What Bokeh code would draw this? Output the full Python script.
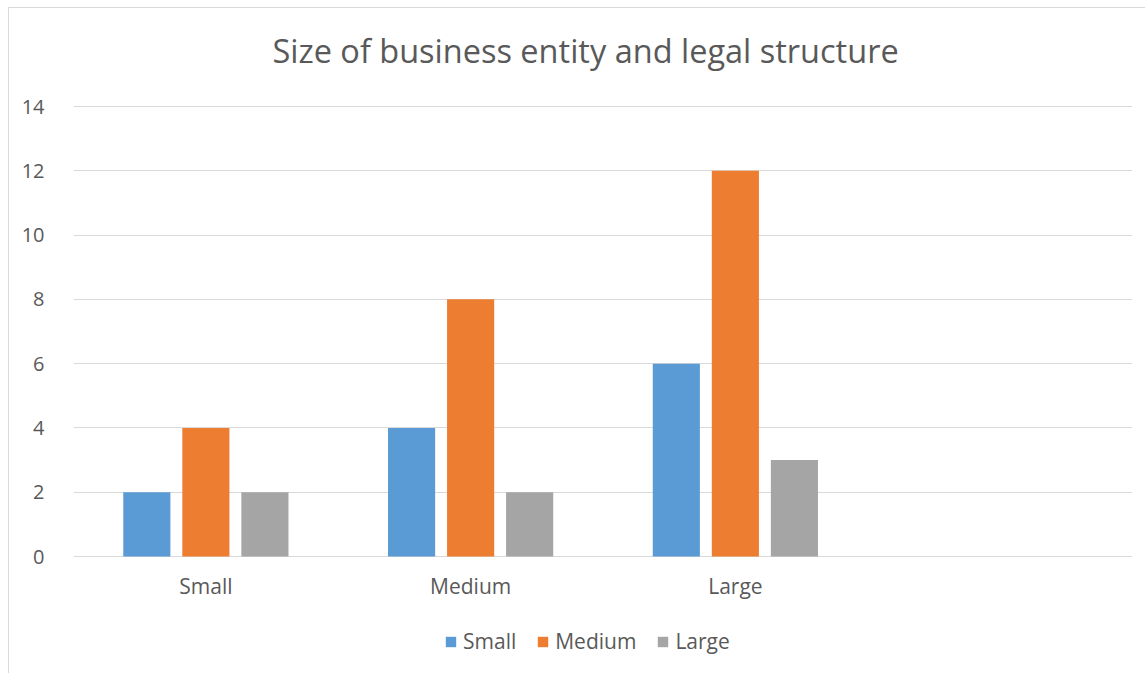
from bokeh.plotting import figure
from bokeh.models import FixedTicker, Legend, LegendItem, Range1d, ColumnDataSource, Label
from bokeh.core.properties import value
from bokeh.embed import file_html
from bokeh.resources import INLINE

title_text = "Size of business entity and legal structure"
categories = ["Small", "Medium", "Large"]
series_names = ["Small", "Medium", "Large"]
small_vals = [2, 4, 6]
medium_vals = [4, 8, 12]
large_vals = [2, 2, 3]
y_ticks = [0, 2, 4, 6, 8, 10, 12, 14]
colors = ["#5B9BD5", "#ED7D31", "#A5A5A5"]

FONT = "Open Sans"
TXT = "#595959"

n_slots = len(categories) + 1  # Excel-style empty trailing slot
centers = [i + 0.5 for i in range(len(categories))]

# value axis: 0..14 over 450px; frame extends 98px above (title) and 118px below (labels + legend)
px_per_unit = 450 / 14
y_top = 14 + 98 / px_per_unit
y_bottom = -118 / px_per_unit

p = figure(width=1137, height=666, output_backend="svg", toolbar_location=None,
           x_range=Range1d(0, n_slots), y_range=Range1d(y_bottom, y_top),
           min_border_left=64, min_border_right=14, min_border_top=0, min_border_bottom=0)
p.margin = (7, 0, 0, 8)
p.styles = {"border-left": "1px solid #d9d9d9", "border-top": "1px solid #d9d9d9"}
p.outline_line_color = None
p.background_fill_color = "white"
p.border_fill_color = "white"

# chart title (placed inside the drawing area, slightly left of the plot centre like Excel)
p.add_layout(Label(x=n_slots * 0.4835, y=14 + 56 / px_per_unit, text=title_text,
                   text_align="center", text_baseline="middle",
                   text_font=FONT, text_font_size="32.5px", text_color=TXT))

bw = 0.178
off = 0.223
renderers = []
for k, (name, vals) in enumerate(zip(series_names, [small_vals, medium_vals, large_vals])):
    src = ColumnDataSource(dict(x=[c + (k - 1) * off for c in centers], top=vals))
    r = p.vbar(x="x", top="top", width=bw, bottom=0, source=src,
               fill_color=colors[k], line_color=None)
    renderers.append(r)

p.xgrid.grid_line_color = None
p.ygrid.grid_line_color = "#D9D9D9"
p.ygrid.grid_line_width = 1
p.ygrid.ticker = FixedTicker(ticks=y_ticks)
p.ygrid.level = "underlay"

p.yaxis.ticker = FixedTicker(ticks=y_ticks)
p.yaxis.axis_line_color = None
p.yaxis.major_tick_line_color = None
p.yaxis.minor_tick_line_color = None
p.yaxis.major_label_text_font = FONT
p.yaxis.major_label_text_font_size = "20px"
p.yaxis.major_label_text_color = TXT
p.yaxis.major_label_standoff = 23

p.xaxis.visible = False

# category labels under the bars
lab_src = ColumnDataSource(dict(x=centers, y=[0] * len(centers), text=categories))
p.text(x="x", y="y", text="text", source=lab_src, y_offset=29,
       text_align="center", text_baseline="middle",
       text_font=value(FONT), text_font_size="21px", text_color=TXT)

legend = Legend(items=[LegendItem(label=n, renderers=[r]) for n, r in zip(series_names, renderers)],
                orientation="horizontal", location=(371, 19))
legend.label_text_font = FONT
legend.label_text_font_size = "21px"
legend.label_text_color = TXT
legend.glyph_width = 13
legend.glyph_height = 13
legend.spacing = 20
legend.label_standoff = 6
legend.border_line_color = None
legend.background_fill_alpha = 0
legend.margin = 0
legend.padding = 0
p.add_layout(legend, "center")

open("out.html", "w").write(file_html(p, INLINE))
